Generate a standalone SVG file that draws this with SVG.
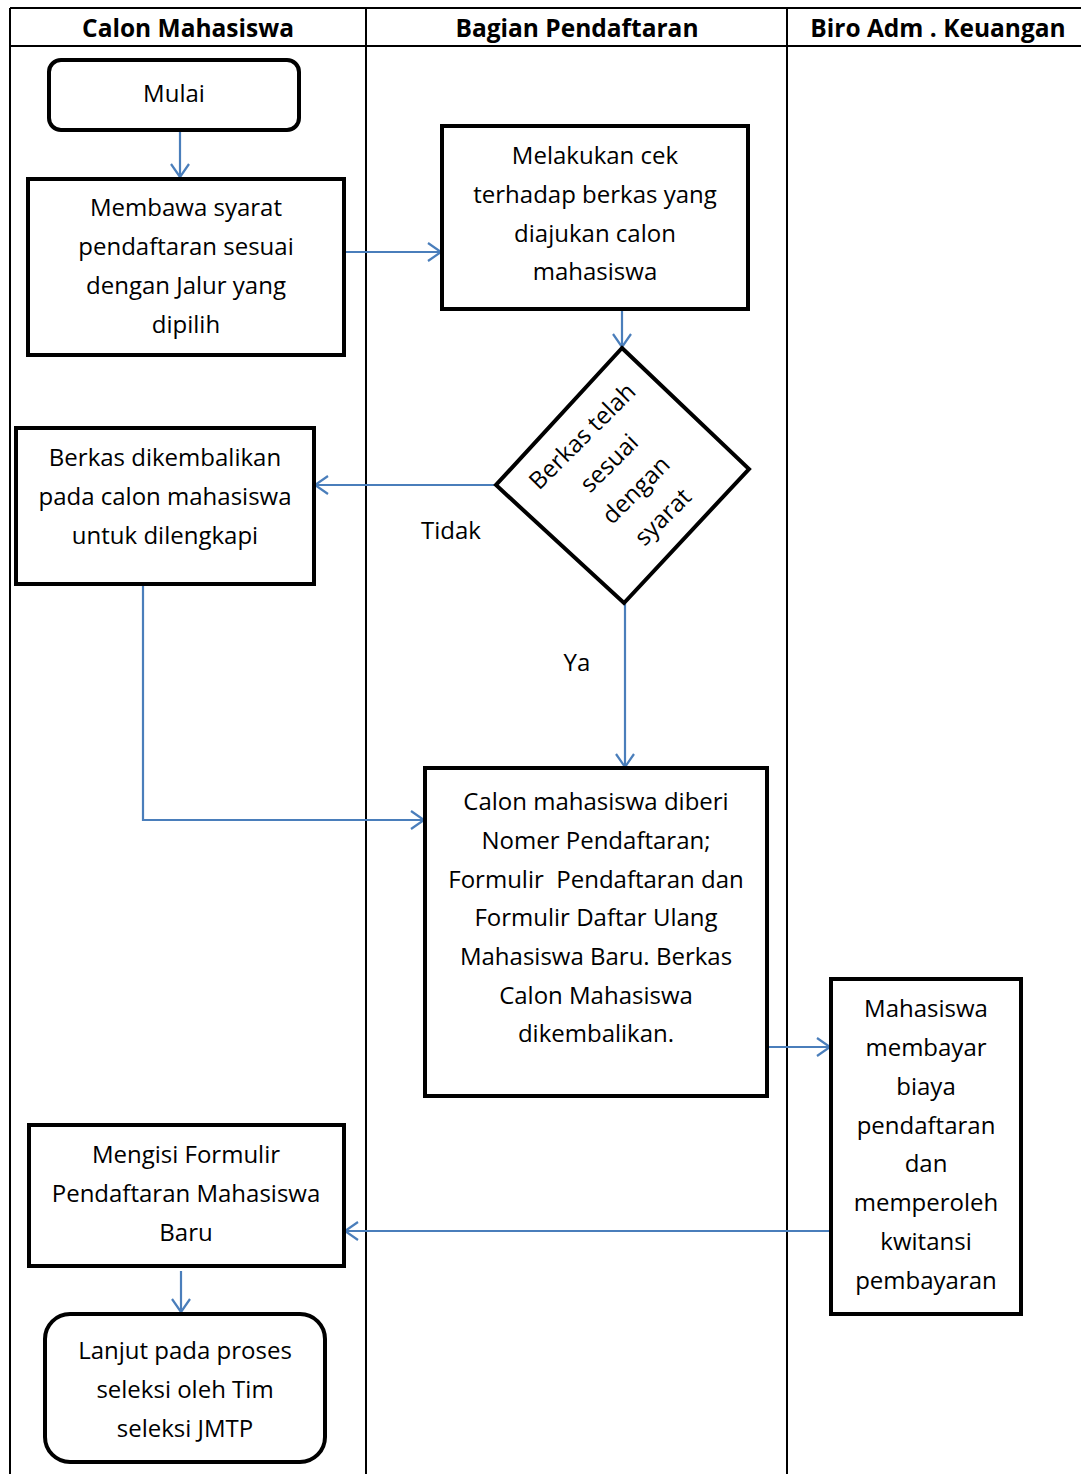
<svg xmlns="http://www.w3.org/2000/svg" width="1081" height="1474" viewBox="0 0 1081 1474">
<defs>
<style>
.lane{stroke:#000;stroke-width:2;fill:none}
.box{fill:#fff;stroke:#000;stroke-width:4}
.t{font-family:"Open Sans","Liberation Sans",sans-serif;font-size:24px;fill:#000;text-anchor:middle}
.h{font-family:"Open Sans","Liberation Sans",sans-serif;font-size:24.5px;font-weight:bold;fill:#000;text-anchor:middle}
.c{stroke:#4a7ebb;stroke-width:2.2;fill:none;marker-end:url(#arr)}
</style>
<marker id="arr" markerWidth="16" markerHeight="22" refX="14" refY="11" orient="auto" markerUnits="userSpaceOnUse">
<path d="M1,2 L14,11 L1,20" fill="none" stroke="#4a7ebb" stroke-width="2.2"/>
</marker>
</defs>
<rect width="1081" height="1474" fill="#fff"/>
<g id="lanes">
<path class="lane" d="M10,8 H1081 M10,46 H1081 M10,8 V1474 M366,8 V1474 M787,8 V1474"/>
<text class="h" x="188" y="37">Calon Mahasiswa</text>
<text class="h" x="577" y="37">Bagian Pendaftaran</text>
<text class="h" x="938" y="37">Biro Adm . Keuangan</text>
</g>
<g id="connectors">
<line class="c" x1="180" y1="130" x2="180" y2="177"/>
<line class="c" x1="344" y1="252" x2="441" y2="252"/>
<line class="c" x1="622" y1="309" x2="622" y2="347"/>
<line class="c" x1="496" y1="485" x2="315" y2="485"/>
<line class="c" x1="625" y1="603" x2="625" y2="767"/>
<polyline class="c" points="143,584 143,820 424,820"/>
<line class="c" x1="767" y1="1047" x2="830" y2="1047"/>
<line class="c" x1="831" y1="1231" x2="345" y2="1231"/>
<line class="c" x1="181" y1="1271" x2="181" y2="1312"/>
<text class="t" x="451" y="539">Tidak</text>
<text class="t" x="577" y="671">Ya</text>
</g>
<g id="mulai">
<rect class="box" x="49" y="60" width="250" height="70" rx="12"/>
<text class="t" x="174" y="102">Mulai</text>
</g>
<g id="membawa">
<rect class="box" x="28" y="179" width="316" height="176"/>
<text class="t" x="186" y="216">Membawa syarat</text>
<text class="t" x="186" y="255">pendaftaran sesuai</text>
<text class="t" x="186" y="294">dengan Jalur yang</text>
<text class="t" x="186" y="333">dipilih</text>
</g>
<g id="melakukan">
<rect class="box" x="442" y="126" width="306" height="183"/>
<text class="t" x="595" y="164">Melakukan cek</text>
<text class="t" x="595" y="203">terhadap berkas yang</text>
<text class="t" x="595" y="242">diajukan calon</text>
<text class="t" x="595" y="280">mahasiswa</text>
</g>
<g id="keputusan">
<polygon class="box" points="622,348 749,469 624,603 496,485"/>
<g transform="translate(622,476) rotate(-45)">
<text class="t" x="0" y="-48">Berkas telah</text>
<text class="t" x="0" y="-10">sesuai</text>
<text class="t" x="0" y="28">dengan</text>
<text class="t" x="0" y="66">syarat</text>
</g>
</g>
<g id="dikembalikan">
<rect class="box" x="16" y="428" width="298" height="156"/>
<text class="t" x="165" y="466">Berkas dikembalikan</text>
<text class="t" x="165" y="505">pada calon mahasiswa</text>
<text class="t" x="165" y="544">untuk dilengkapi</text>
</g>
<g id="nomer">
<rect class="box" x="425" y="768" width="342" height="328"/>
<text class="t" x="596" y="810">Calon mahasiswa diberi</text>
<text class="t" x="596" y="849">Nomer Pendaftaran;</text>
<text class="t" x="596" y="888" xml:space="preserve">Formulir  Pendaftaran dan</text>
<text class="t" x="596" y="926">Formulir Daftar Ulang</text>
<text class="t" x="596" y="965">Mahasiswa Baru. Berkas</text>
<text class="t" x="596" y="1004">Calon Mahasiswa</text>
<text class="t" x="596" y="1042">dikembalikan.</text>
</g>
<g id="bayar">
<rect class="box" x="831" y="979" width="190" height="335"/>
<text class="t" x="926" y="1017">Mahasiswa</text>
<text class="t" x="926" y="1056">membayar</text>
<text class="t" x="926" y="1095">biaya</text>
<text class="t" x="926" y="1134">pendaftaran</text>
<text class="t" x="926" y="1172">dan</text>
<text class="t" x="926" y="1211">memperoleh</text>
<text class="t" x="926" y="1250">kwitansi</text>
<text class="t" x="926" y="1289">pembayaran</text>
</g>
<g id="mengisi">
<rect class="box" x="29" y="1125" width="315" height="141"/>
<text class="t" x="186" y="1163">Mengisi Formulir</text>
<text class="t" x="186" y="1202">Pendaftaran Mahasiswa</text>
<text class="t" x="186" y="1241">Baru</text>
</g>
<g id="lanjut">
<rect class="box" x="45" y="1314" width="280" height="148" rx="25"/>
<text class="t" x="185" y="1359">Lanjut pada proses</text>
<text class="t" x="185" y="1398">seleksi oleh Tim</text>
<text class="t" x="185" y="1437">seleksi JMTP</text>
</g>
</svg>
